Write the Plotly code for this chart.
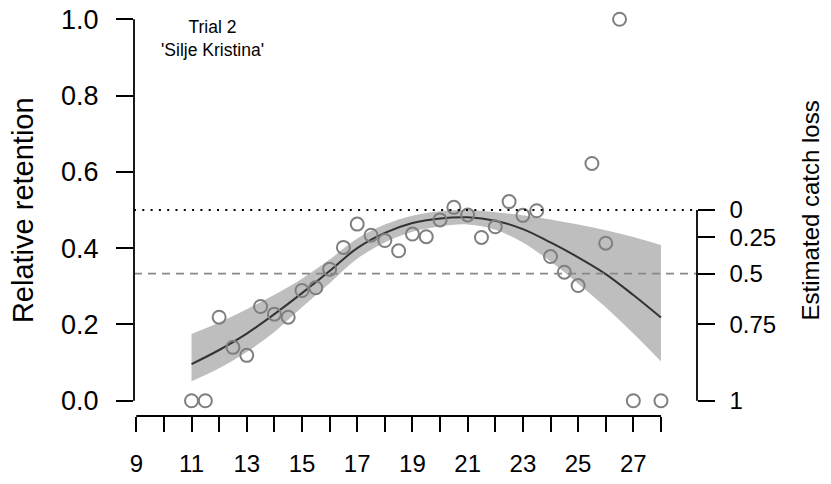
import plotly.graph_objects as go

# ---- data ----
obs_x = [11, 11.5, 12, 12.5, 13, 13.5, 14, 14.5, 15, 15.5, 16, 16.5, 17, 17.5,
         18, 18.5, 19, 19.5, 20, 20.5, 21, 21.5, 22, 22.5, 23, 23.5, 24, 24.5,
         25, 25.5, 26, 26.5, 27, 28]
obs_y = [0.0, 0.0, 0.219, 0.140, 0.119, 0.247, 0.227, 0.219, 0.289, 0.296,
         0.345, 0.402, 0.463, 0.434, 0.420, 0.393, 0.437, 0.430, 0.474, 0.507,
         0.487, 0.428, 0.456, 0.522, 0.486, 0.498, 0.378, 0.337, 0.302, 0.622,
         0.413, 1.0, 0.0, 0.0]

fit_x = [11, 12, 13, 14, 15, 16, 17, 18, 19, 20, 21, 22, 23, 24, 25, 26, 27, 28]
fit_y = [0.096, 0.133, 0.176, 0.227, 0.282, 0.340, 0.400, 0.440, 0.466, 0.478,
         0.481, 0.472, 0.450, 0.415, 0.376, 0.332, 0.277, 0.218]
ci_lo = [0.051, 0.085, 0.128, 0.180, 0.245, 0.308, 0.372, 0.415, 0.443, 0.457,
         0.462, 0.448, 0.415, 0.365, 0.307, 0.245, 0.176, 0.103]
ci_hi = [0.175, 0.205, 0.240, 0.278, 0.320, 0.370, 0.425, 0.462, 0.485, 0.497,
         0.500, 0.494, 0.486, 0.475, 0.462, 0.447, 0.429, 0.408]

x_ticks = list(range(9, 29))
x_ticktext = [str(v) if v % 2 == 1 else "" for v in x_ticks]
y_ticks = [0, 0.2, 0.4, 0.6, 0.8, 1.0]
y_ticktext = ["0.0", "0.2", "0.4", "0.6", "0.8", "1.0"]
loss_ticks = [0, 0.25, 0.5, 0.75, 1]
loss_ticktext = ["0", "0.25", "0.5", "0.75", "1"]
loss_pos = [(1 - c) / (2 - c) for c in loss_ticks]   # retention scale position

ref_full = 0.5        # retention with no catch loss
ref_half = 1 / 3      # retention with 50% catch loss

FONT = "Liberation Sans, Arial, Helvetica, sans-serif"
LW = 1.8

fig = go.Figure()
fig.add_trace(go.Scatter(x=fit_x, y=ci_hi, mode="lines", line=dict(width=0, shape="spline"),
                         hoverinfo="skip", showlegend=False))
fig.add_trace(go.Scatter(x=fit_x, y=ci_lo, mode="lines", line=dict(width=0, shape="spline"),
                         fill="tonexty", fillcolor="#BEBEBE", hoverinfo="skip", showlegend=False))
fig.add_trace(go.Scatter(x=fit_x, y=fit_y, mode="lines",
                         line=dict(color="#333333", width=2, shape="spline"), showlegend=False))
fig.add_trace(go.Scatter(x=obs_x, y=obs_y, mode="markers",
                         marker=dict(symbol="circle-open", size=13, color="#7F7F7F",
                                     line=dict(width=2, color="#7F7F7F")),
                         showlegend=False))
# invisible trace to activate right axis
fig.add_trace(go.Scatter(x=[fit_x[0]], y=[fit_y[0]], yaxis="y2", mode="markers",
                         marker=dict(opacity=0), hoverinfo="skip", showlegend=False))

# reference lines
fig.add_shape(type="line", xref="paper", yref="y", x0=0, x1=1, y0=ref_full, y1=ref_full,
              line=dict(color="black", width=LW, dash="2px,6.3px"))
fig.add_shape(type="line", xref="paper", yref="y", x0=0, x1=1, y0=ref_half, y1=ref_half,
              line=dict(color="#888888", width=LW, dash="8px,6px"))

# axis lines (R style: only span tick range)
fig.add_shape(type="line", xref="x", yref="paper", x0=min(x_ticks), x1=max(x_ticks), y0=0, y1=0,
              line=dict(color="black", width=LW))
fig.add_shape(type="line", xref="paper", yref="y", x0=0, x1=0, y0=min(y_ticks), y1=max(y_ticks),
              line=dict(color="black", width=LW))
fig.add_shape(type="line", xref="paper", yref="y", x0=1, x1=1, y0=min(loss_pos), y1=max(loss_pos),
              line=dict(color="black", width=LW))

fig.add_annotation(x=11.75, y=0.949, xref="x", yref="y",
                   text="Trial 2<br>'Silje Kristina'", showarrow=False,
                   font=dict(family=FONT, size=17.5, color="black"), align="center")
fig.add_annotation(x=-0.197, y=0.5, xref="paper", yref="paper", text="Relative retention",
                   xanchor="center", yanchor="middle",
                   textangle=-90, showarrow=False, font=dict(family=FONT, size=29, color="black"))
fig.add_annotation(x=1.2014, y=0.5, xref="paper", yref="paper", text="Estimated catch loss",
                   xanchor="center", yanchor="middle",
                   textangle=-90, showarrow=False, font=dict(family=FONT, size=24, color="black"))

fig.update_layout(
    width=831, height=484,
    margin=dict(l=134, r=134.3, t=3.7, b=67.7),
    paper_bgcolor="white", plot_bgcolor="white",
    font=dict(family=FONT, color="black", size=24),
    xaxis=dict(range=[8.9167, 29.305], tickvals=x_ticks, ticktext=x_ticktext,
               ticks="outside", ticklen=15, tickwidth=LW, tickcolor="black",
               showline=False, showgrid=False, zeroline=False,
               tickfont=dict(family=FONT, size=24), ticklabelstandoff=11),
    yaxis=dict(range=[-0.04, 1.04], tickvals=y_ticks, ticktext=y_ticktext,
               ticks="outside", ticklen=17, tickwidth=LW, tickcolor="black",
               showline=False, showgrid=False, zeroline=False,
               tickfont=dict(family=FONT, size=27), ticklabelstandoff=12),
    yaxis2=dict(range=[-0.04, 1.04], overlaying="y", side="right", anchor="x",
                tickvals=loss_pos, ticktext=loss_ticktext,
                ticks="outside", ticklen=16.6, tickwidth=LW, tickcolor="black",
                showline=False, showgrid=False, zeroline=False,
                tickfont=dict(family=FONT, size=24), ticklabelstandoff=10),
)

fig.write_html("out.html")
